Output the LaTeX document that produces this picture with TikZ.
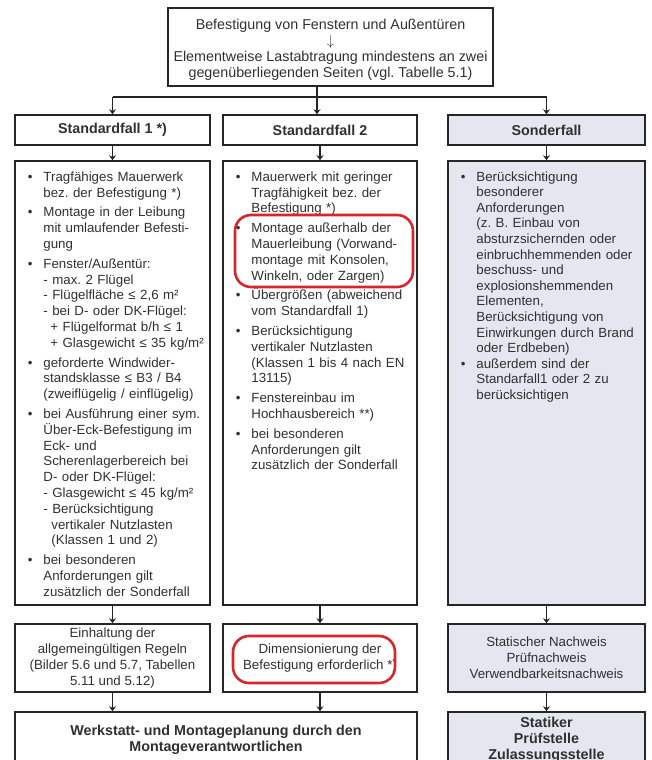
\documentclass[tikz,border=0pt]{standalone}
\usepackage{fontspec}
\setmainfont{Liberation Sans}
\frenchspacing
\newcommand*{\bodyfont}{\fontsize{13.3}{15.8}\selectfont}
\newcommand*{\headfont}{\fontsize{14.3}{16}\selectfont\bfseries}
\newcommand*{\topfont}{\fontsize{14.3}{15.8}\selectfont}
\definecolor{ink}{HTML}{303030}
\definecolor{edge}{HTML}{262626}
\definecolor{special}{HTML}{E4E7F0}
\definecolor{marker}{HTML}{D6262C}
\usetikzlibrary{arrows.meta}
\tikzstyle{frame}=[draw=edge, line width=1.5pt, inner sep=0pt, text=ink]
\tikzstyle{headbox}=[frame, minimum height=30pt, font=\headfont]
\tikzstyle{resultbox}=[frame, minimum height=68pt, font=\bodyfont, align=center]
\tikzstyle{textblock}=[anchor=north west, inner sep=0pt, text width=180pt, align=left, font=\bodyfont, text=ink]
\tikzstyle{link}=[draw=edge, line width=1.3pt]
\tikzstyle{flow}=[link, -{Stealth[length=5pt,width=7pt]}]
\tikzstyle{redring}=[draw=marker, line width=2.6pt, rounded corners=16pt]
\newenvironment{pointlist}[1][4pt]{\begin{list}{\textbullet}{\setlength{\leftmargin}{14pt}%
  \setlength{\labelsep}{11pt}\setlength{\labelwidth}{5pt}\setlength{\itemsep}{#1}%
  \setlength{\parsep}{0pt}\setlength{\topsep}{0pt}\setlength{\partopsep}{0pt}}}{\end{list}}

\begin{document}
\begin{tikzpicture}[x=1pt, y=-1pt]
    \useasboundingbox (0,0) rectangle (651,760);
    \clip (0,0) rectangle (651,760);
    \node [frame, minimum width=325pt, minimum height=78pt] (top) at (330.5,47) {};
    \node [font=\topfont, align=center, text=ink, inner sep=0pt] (toptext) at ([yshift=-3pt] top.center)
        {Befestigung von Fenstern und Außentüren\\ \smash{$\downarrow$}\\ Elementweise Lastabtragung mindestens an zwei\\ gegenüberliegenden Seiten (vgl. Tabelle 5.1)};
    \node [headbox, minimum width=195pt] (hd1) at (112.5,130) {Standardfall 1 *)};
    \node [headbox, minimum width=194pt] (hd2) at (320,130) {Standardfall 2};
    \node [headbox, minimum width=197pt, fill=special] (hd3) at (546.5,130) {Sonderfall};
    \node [frame, minimum width=195pt, minimum height=444pt] (box1) at (112.5,383) {};
    \node [frame, minimum width=194pt, minimum height=444pt] (box2) at (320,383) {};
    \node [frame, minimum width=197pt, minimum height=444pt, fill=special] (box3) at (546.5,383) {};
    \node [textblock] (txt1) at ([xshift=15pt, yshift=-5pt] box1.north west) {\begin{pointlist}
        \item Tragfähiges Mauerwerk\\ bez. der Befestigung *)
        \item Montage in der Leibung\\ mit umlaufender Befesti-\\ gung
        \item Fenster/Außentür:\\ - max. 2 Flügel\\ - Flügelfläche ≤ 2,6 m²\\ - bei D- oder DK-Flügel:\\ \hspace*{7pt}+ Flügelformat b/h ≤ 1\\ \hspace*{7pt}+ Glasgewicht ≤ 35 kg/m²
        \item geforderte Windwider-\\ standsklasse ≤ B3 / B4\\ (zweiflügelig / einflügelig)
        \item bei Ausführung einer sym.\\ Über-Eck-Befestigung im\\ Eck- und\\ Scherenlagerbereich bei\\ D- oder DK-Flügel:\\ - Glasgewicht ≤ 45 kg/m²\\ - Berücksichtigung\\ \hspace*{8pt}vertikaler Nutzlasten\\ \hspace*{8pt}(Klassen 1 und 2)
        \item bei besonderen\\ Anforderungen gilt\\ zusätzlich der Sonderfall
        \end{pointlist}};
    \node [textblock] (txt2) at ([xshift=15pt, yshift=-5pt] box2.north west) {\begin{pointlist}
        \item Mauerwerk mit geringer\\ Tragfähigkeit bez. der\\ Befestigung *)
        \item Montage außerhalb der\\ Mauerleibung (Vorwand-\\ montage mit Konsolen,\\ Winkeln, oder Zargen)
        \item Übergrößen (abweichend\\ vom Standardfall 1)
        \item Berücksichtigung\\ vertikaler Nutzlasten\\ (Klassen 1 bis 4 nach EN\\ 13115)
        \item Fenstereinbau im\\ Hochhausbereich **)
        \item bei besonderen\\ Anforderungen gilt\\ zusätzlich der Sonderfall
        \end{pointlist}};
    \node [textblock, font=\fontsize{13.3}{15.6}\selectfont] (txt3) at ([xshift=15pt, yshift=-5pt] box3.north west) {\begin{pointlist}[0pt]
        \item Berücksichtigung\\ besonderer\\ Anforderungen\\ (z. B. Einbau von\\ absturzsichernden oder\\ einbruchhemmenden oder\\ beschuss- und\\ explosionshemmenden\\ Elementen,\\ Berücksichtigung von\\ Einwirkungen durch Brand\\ oder Erdbeben)
        \item außerdem sind der\\ Standarfall1 oder 2 zu\\ berücksichtigen
        \end{pointlist}};
    \node [resultbox, minimum width=195pt] (res1) at (112.5,658)
        {Einhaltung der\\ allgemeingültigen Regeln\\ (Bilder 5.6 und 5.7, Tabellen\\ 5.11 und 5.12)};
    \node [resultbox, minimum width=194pt] (res2) at (320,658)
        {Dimensionierung der\\ Befestigung erforderlich *)};
    \node [resultbox, minimum width=197pt, fill=special] (res3) at (546.5,658)
        {Statischer Nachweis\\ Prüfnachweis\\ Verwendbarkeitsnachweis};
    \node [frame, minimum width=402pt, minimum height=56pt, font=\headfont, align=center] (plan) at (216,740)
        {Werkstatt- und Montageplanung durch den\\ Montageverantwortlichen};
    \node [frame, minimum width=197pt, minimum height=56pt, font=\headfont, align=center, fill=special] (auth) at (546.5,740)
        {Statiker\\ Prüfstelle\\ Zulassungsstelle};
    \coordinate (split) at (317,97);
    \draw [link] (top.south -| split) -- (split);
    \draw [link] (split -| hd1) -- (split -| hd3);
    \draw [flow] (split -| hd1) -- (hd1);
    \draw [flow] (split) -- (split |- hd2.north);
    \draw [flow] (split -| hd3) -- (hd3);
    \foreach \i in {1,2,3} {
        \draw [flow] (hd\i) -- (box\i);
        \draw [flow] (box\i) -- (res\i);
    }
    \draw [flow] (res1) -- (res1 |- plan.north);
    \draw [flow] (res2) -- (res2 |- plan.north);
    \draw [flow] (res3) -- (auth);
    \node [redring, minimum width=178pt, minimum height=72pt] (ring1) at (324,251) {};
    \node [redring, minimum width=162pt, minimum height=47pt] (ring2) at (314,659.5) {};
\end{tikzpicture}
\end{document}
